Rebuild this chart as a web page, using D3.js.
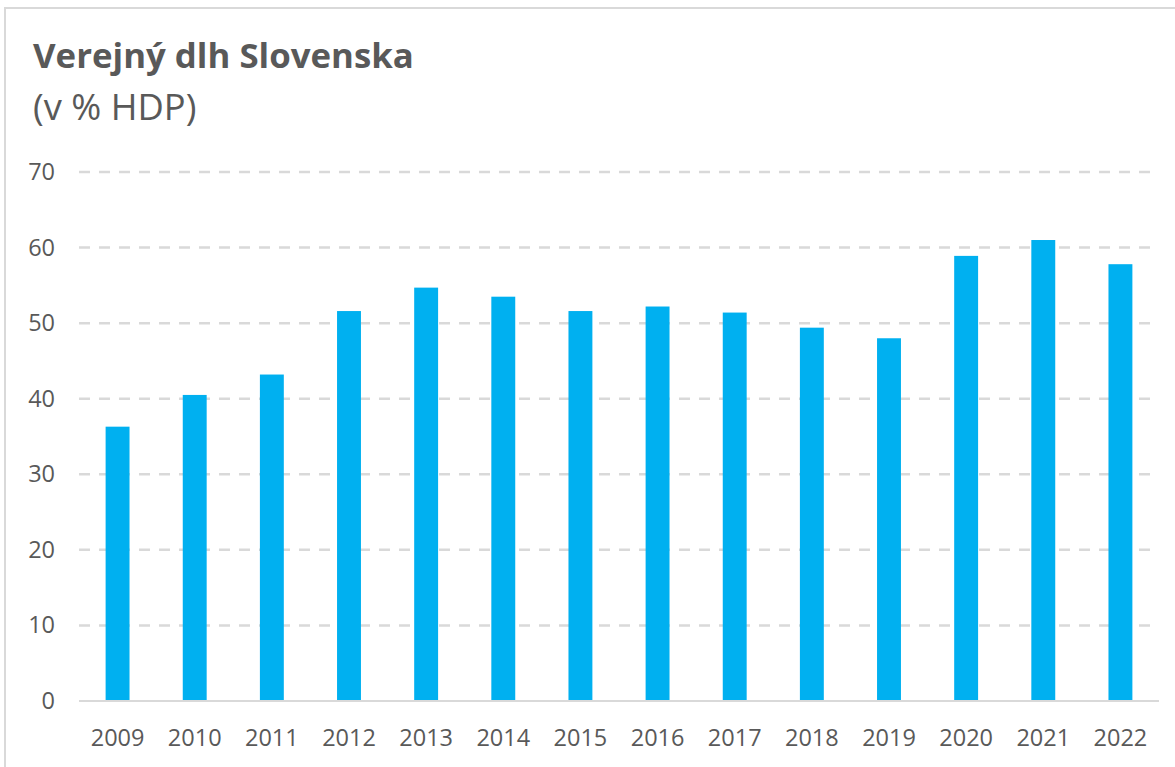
<!DOCTYPE html>
<html><head><meta charset="utf-8">
<script src="https://cdn.jsdelivr.net/npm/d3@7"></script>
<style>body{margin:0;background:#fff}svg{display:block}text{font-family:"Open Sans",sans-serif}</style>
</head><body><svg id="c" width="1175" height="767"></svg>
<script>
const years = ["2009","2010","2011","2012","2013","2014","2015","2016","2017","2018","2019","2020","2021","2022"];
const debt = [36.3,40.5,43.2,51.6,54.7,53.5,51.6,52.2,51.4,49.4,48.0,58.9,61.0,57.8];
const yTicks = [0,10,20,30,40,50,60,70];
const title = "Verejný dlh Slovenska";
const subtitle = "(v % HDP)";

const svg = d3.select("#c");
const W = 1175, H = 767;
const m = {left:79, right:16, top:172, bottom:66};

svg.append("rect").attr("x",5).attr("y",8).attr("width",W+10).attr("height",H+10)
  .attr("fill","#fff").attr("stroke","#d9d9d9").attr("stroke-width",2);

const x = d3.scaleBand().domain(years).range([m.left, W-m.right]).paddingInner(0.69).paddingOuter(0.345);
const y = d3.scaleLinear().domain([0,70]).range([H-m.bottom, m.top]);

svg.append("text").attr("x",33).attr("y",68).attr("fill","#595959")
  .attr("font-size",34.8).attr("font-weight","bold").text(title);
svg.append("text").attr("x",33).attr("y",120).attr("fill","#595959")
  .attr("font-size",36.3).text(subtitle);

const grid = svg.append("g");
grid.selectAll("line").data(yTicks.filter(d=>d>0)).join("line")
  .attr("x1",m.left).attr("x2",W-m.right)
  .attr("y1",d=>y(d)).attr("y2",d=>y(d))
  .attr("stroke","#d9d9d9").attr("stroke-width",2.5).attr("stroke-dasharray","11,9");

svg.append("g").selectAll("rect").data(debt).join("rect")
  .attr("x",(d,i)=>x(years[i])).attr("width",x.bandwidth())
  .attr("y",d=>y(d)).attr("height",d=>y(0)-y(d)).attr("fill","#00b0f0");

svg.append("line").attr("x1",m.left).attr("x2",W-m.right).attr("y1",y(0)).attr("y2",y(0))
  .attr("stroke","#d9d9d9").attr("stroke-width",2);

const yAxis = d3.axisLeft(y).tickValues(yTicks).tickSize(0).tickPadding(0);
const ga = svg.append("g").attr("transform","translate(55,0)").call(yAxis);
ga.select(".domain").remove();
ga.selectAll("text").attr("font-size",23.5).attr("fill","#595959").attr("font-family","Open Sans, sans-serif");

const xAxis = d3.axisBottom(x).tickSize(0).tickPadding(0);
const gx = svg.append("g").attr("transform",`translate(0,${y(0)})`).call(xAxis);
gx.select(".domain").remove();
gx.selectAll("text").attr("font-size",23.5).attr("fill","#595959").attr("font-family","Open Sans, sans-serif")
  .attr("dy",null).attr("y",45);
</script></body></html>
